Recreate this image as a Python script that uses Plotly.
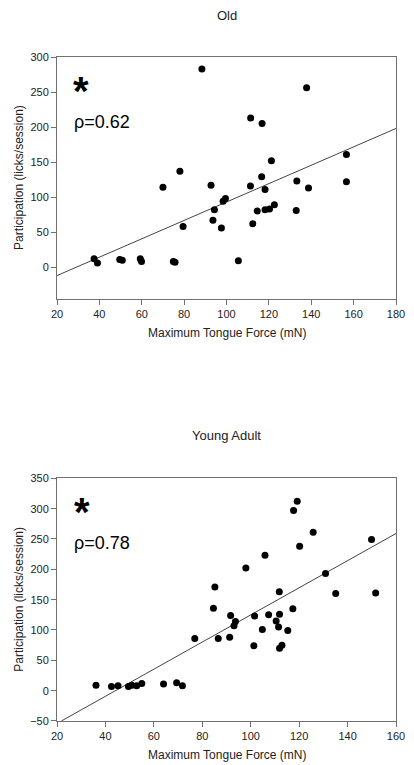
import plotly.graph_objects as go

# ---------------- data ----------------
old_force = [88.4, 137.8, 111.4, 116.8, 121.2, 78.0, 70.0, 92.7, 111.3, 116.6,
             118.2, 133.2, 138.7, 98.4, 99.5, 94.3, 93.6, 97.6, 79.5, 112.4,
             114.5, 118.2, 120.3, 122.6, 132.9, 37.5, 39.1, 49.6, 50.8, 59.3,
             59.9, 74.9, 75.7, 105.6, 156.6, 156.6]
old_licks = [283, 256, 213, 205, 152, 137, 114, 117, 116, 129,
             111, 123, 113, 94, 98, 82, 67, 56, 58, 62,
             80, 82, 83, 89, 81, 12, 6, 11, 10, 12,
             8, 8, 7, 9, 161, 122]
old_fit_x = [20, 180]
old_fit_y = [-12, 198]

young_force = [85.2, 98.0, 105.9, 117.7, 119.2, 120.2, 125.8, 111.8, 130.9, 135.1,
               84.6, 91.7, 93.7, 93.1, 101.6, 107.4, 111.9, 117.4, 110.5, 111.5,
               115.3, 104.8, 86.6, 91.3, 76.9, 101.3, 111.9, 112.9, 149.9, 151.6,
               36.1, 42.5, 45.2, 49.5, 50.9, 52.9, 55.0, 64.0, 69.4, 71.8]
young_licks = [171, 202, 223, 297, 312, 238, 261, 163, 193, 160,
               136, 124, 114, 107, 123, 125, 126, 135, 115, 105,
               99, 101, 86, 88, 86, 74, 70, 75, 249, 161,
               9, 7, 8, 7, 9, 8, 12, 11, 13, 8]
young_fit_x = [21.8, 160]
young_fit_y = [-50, 259]

titles = ["Old", "Young Adult"]
rho_labels = ["ρ=0.62", "ρ=0.78"]
x_title = "Maximum Tongue Force (mN)"
y_title = "Participation (licks/session)"

# ---------------- figure ----------------
FONT = "Liberation Sans, Arial, sans-serif"
AX = "#707070"
TXT = "#222222"

fig = go.Figure()
fig.add_trace(go.Scatter(x=old_fit_x, y=old_fit_y, mode="lines",
                         line=dict(color="#444444", width=1),
                         xaxis="x", yaxis="y", showlegend=False, hoverinfo="skip"))
fig.add_trace(go.Scatter(x=old_force, y=old_licks, mode="markers",
                         marker=dict(color="black", size=7),
                         xaxis="x", yaxis="y", showlegend=False))
fig.add_trace(go.Scatter(x=young_fit_x, y=young_fit_y, mode="lines",
                         line=dict(color="#444444", width=1),
                         xaxis="x2", yaxis="y2", showlegend=False, hoverinfo="skip"))
fig.add_trace(go.Scatter(x=young_force, y=young_licks, mode="markers",
                         marker=dict(color="black", size=7),
                         xaxis="x2", yaxis="y2", showlegend=False))

axis_common = dict(showgrid=False, zeroline=False, showline=True, linecolor=AX,
                   linewidth=1, mirror=True, ticks="outside", ticklen=5,
                   tickcolor=AX, tickwidth=1, ticklabeloverflow="allow",
                   tickfont=dict(family=FONT, size=11, color=TXT))

fig.update_layout(
    width=414, height=765,
    margin=dict(l=57, r=9, t=57, b=44),
    paper_bgcolor="white", plot_bgcolor="white",
    font=dict(family=FONT, color=TXT),
    xaxis=dict(range=[20, 180], tick0=20, dtick=20, domain=[0, 1], anchor="y", **axis_common),
    yaxis=dict(range=[-45, 300], tick0=0, dtick=50, domain=[0.636, 1], anchor="x", **axis_common),
    xaxis2=dict(range=[20, 160], tick0=20, dtick=20, domain=[0, 1], anchor="y2", **axis_common),
    yaxis2=dict(range=[-50, 350], tick0=-50, dtick=50, domain=[0, 0.3655], anchor="x2", **axis_common),
)

ann = []
for i, (xr, yr) in enumerate([("x domain", "y domain"), ("x2 domain", "y2 domain")]):
    title_y = [1.1726, 1.1745][i]
    xt_y = [-0.141, -0.14][i]
    star_y = [0.859, 0.861][i]
    rho_y = [0.73, 0.733][i]
    ann.append(dict(text=titles[i], xref=xr, yref=yr, x=0.5, y=title_y,
                    showarrow=False, font=dict(size=13, family=FONT, color=TXT),
                    xanchor="center", yanchor="middle"))
    ann.append(dict(text=x_title, xref=xr, yref=yr, x=0.5, y=xt_y,
                    showarrow=False, font=dict(size=12, family=FONT, color=TXT),
                    xanchor="center", yanchor="middle"))
    ann.append(dict(text=y_title, xref="paper", yref=yr, x=-0.112, y=0.5,
                    textangle=-90, showarrow=False,
                    font=dict(size=12, family=FONT, color=TXT),
                    xanchor="center", yanchor="middle"))
    ann.append(dict(text="<b>*</b>", xref=xr, yref=yr, x=[0.07, 0.074][i], y=star_y,
                    showarrow=False, font=dict(size=40, family=FONT, color="black"),
                    xanchor="center", yanchor="middle"))
    ann.append(dict(text=rho_labels[i], xref=xr, yref=yr, x=0.045, y=rho_y,
                    showarrow=False, font=dict(size=18, family=FONT, color="black"),
                    xanchor="left", yanchor="middle"))
fig.update_layout(annotations=ann)

fig.write_html("out.html", config={"displayModeBar": False},
               post_script="document.body.style.margin='0';document.body.style.padding='0';")
